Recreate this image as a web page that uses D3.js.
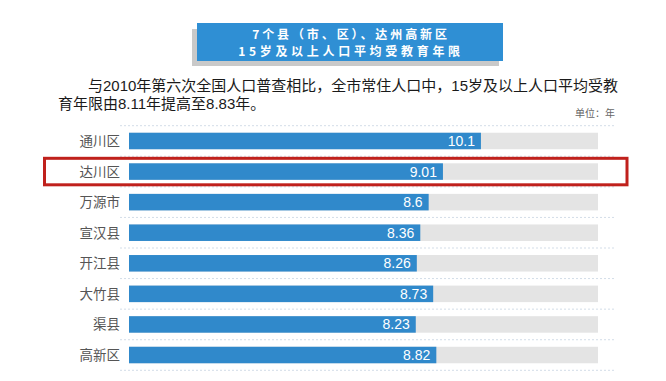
<!DOCTYPE html>
<html><head><meta charset="utf-8">
<script src="https://cdn.jsdelivr.net/npm/d3@7"></script>
<style>
html,body{margin:0;padding:0;background:#fff;}
svg{display:block;}
</style></head>
<body>
<svg id="chart" width="666" height="381"></svg>
<script>
const categories = ["通川区","达川区","万源市","宣汉县","开江县","大竹县","渠县","高新区"];
const values = [10.1, 9.01, 8.6, 8.36, 8.26, 8.73, 8.23, 8.82];
const valueLabels = ["10.1","9.01","8.6","8.36","8.26","8.73","8.23","8.82"];
const highlighted = ["达川区"];
const titleLines = ["7个县（市、区）、达州高新区","15岁及以上人口平均受教育年限"];
const paragraphLines = ["与2010年第六次全国人口普查相比，全市常住人口中，15岁及以上人口平均受教","育年限由8.11年提高至8.83年。"];
const unitLabel = "单位：年";
const xMax = 13.46;

const svg = d3.select("#chart");
const CJK = "'Liberation Sans','Noto Sans CJK SC',sans-serif";

// Title box with shadow
svg.append("rect").attr("x",192).attr("y",29).attr("width",307).attr("height",37).attr("fill","#c9c9c9");
svg.append("rect").attr("x",197).attr("y",23).attr("width",306).attr("height",38).attr("fill","#2f8fd4");
svg.selectAll("text.title").data(titleLines).join("text")
  .attr("class","title")
  .attr("x",351).attr("y",(d,i)=>38.5+i*17.5)
  .attr("text-anchor","middle")
  .attr("fill","#fff").attr("font-weight","bold")
  .attr("font-size",12).attr("letter-spacing",(d,i)=> i===0 ? 2.9 : 3.7)
  .attr("font-family","'Noto Sans CJK SC',sans-serif")
  .text(d=>d);

// Paragraph
svg.selectAll("text.para").data(paragraphLines).join("text")
  .attr("class","para")
  .attr("x",(d,i)=> i===0 ? 88 : 58)
  .attr("y",(d,i)=>91+i*18)
  .attr("fill","#1a1a1a").attr("font-size",15)
  .attr("font-family",CJK)
  .text(d=>d);

svg.append("text").attr("x",615).attr("y",117).attr("text-anchor","end")
  .attr("fill","#666").attr("font-size",10)
  .attr("font-family","'Noto Sans CJK SC',sans-serif").text(unitLabel);

const x = d3.scaleLinear().domain([0,xMax]).range([129,598]);
const y = d3.scaleBand().domain(categories).range([125.7,370.3]).paddingInner(0.46).paddingOuter(0.23);
const step = y.step();

// dotted separators
const sepY = d3.range(categories.length+1).map(i=>125.7+i*step);
svg.selectAll("line.sep").data(sepY).join("line")
  .attr("x1",120).attr("x2",616).attr("y1",d=>d).attr("y2",d=>d)
  .attr("stroke","#d3dde8").attr("stroke-width",1).attr("stroke-dasharray","2,2");

const rows = categories.map((c,i)=>({c, v:values[i], l:valueLabels[i]}));

svg.selectAll("rect.bg").data(rows).join("rect")
  .attr("x",x(0)).attr("y",d=>y(d.c)).attr("width",x(xMax)-x(0)).attr("height",y.bandwidth())
  .attr("fill","#e4e4e4");
svg.selectAll("rect.bar").data(rows).join("rect")
  .attr("x",x(0)).attr("y",d=>y(d.c)).attr("width",d=>x(d.v)-x(0)).attr("height",y.bandwidth())
  .attr("fill","#3089cb");
svg.selectAll("text.val").data(rows).join("text")
  .attr("x",d=>x(d.v)-6).attr("y",d=>y(d.c)+y.bandwidth()/2+5)
  .attr("text-anchor","end").attr("fill","#fff").attr("font-size",14)
  .attr("font-family","'Liberation Sans',Arial,sans-serif")
  .text(d=>d.l);
svg.selectAll("text.cat").data(rows).join("text")
  .attr("x",120).attr("y",d=>y(d.c)+y.bandwidth()/2+5)
  .attr("text-anchor","end").attr("fill","#555").attr("font-size",13.5)
  .attr("font-family","'Noto Sans CJK SC',sans-serif")
  .text(d=>d.c);

// highlight box
svg.selectAll("rect.hl").data(highlighted).join("rect")
  .attr("x",44.5).attr("y",d=>y(d)-5).attr("width",582.5).attr("height",26.5)
  .attr("fill","none").attr("stroke","#c0211c").attr("stroke-width",3);
</script>
</body></html>
